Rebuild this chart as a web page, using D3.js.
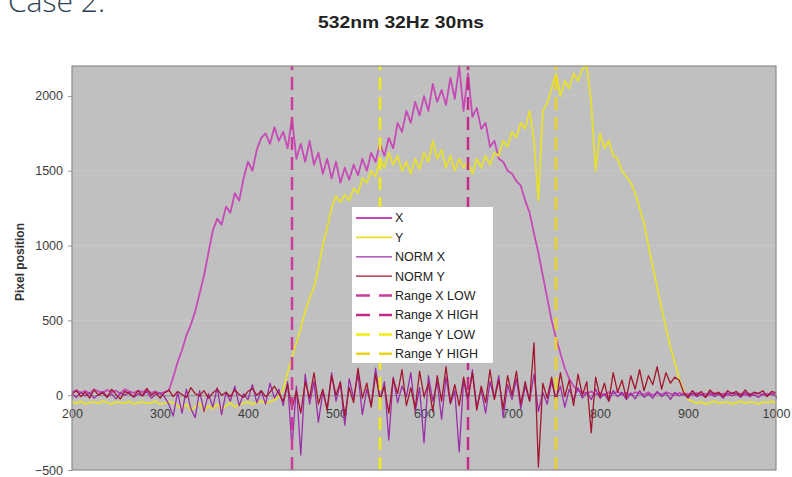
<!DOCTYPE html>
<html>
<head>
<meta charset="utf-8">
<script src="https://cdn.jsdelivr.net/npm/d3@7/dist/d3.min.js"></script>
<style>
  html, body { margin: 0; padding: 0; background: #fff; }
  svg { display: block; }
</style>
</head>
<body>
<svg id="chart" width="792" height="477"></svg>
<script>
// ---------- DATA ----------
const pageLabel = "Case 2:";
const chartTitle = "532nm 32Hz 30ms";
const yAxisTitle = "Pixel position";
const xTicks = [200, 300, 400, 500, 600, 700, 800, 900, 1000];
const yTicks = [-500, 0, 500, 1000, 1500, 2000];
const sampleStart = 200, sampleStep = 5;   // sample positions 200..1000

const seriesX = [
  20, 35, 15, 30, 10, 40, 25, 15, 35, 20, 30, 10, 40, 25, 15, 30, 20, 35, 15, 25, 10, 20,
  30, 120, 220, 300, 400, 470, 560, 680, 800, 950,
  1100, 1180, 1140, 1260, 1220, 1350, 1300, 1450, 1560, 1500,
  1640, 1720, 1750, 1680, 1790, 1700, 1760, 1650, 1850, 1580,
  1680, 1560, 1700, 1540, 1620, 1480, 1580, 1450, 1560, 1420,
  1520, 1440, 1540, 1470, 1580, 1500, 1620, 1560, 1680, 1600,
  1720, 1650, 1820, 1760, 1900, 1820, 1960, 1870, 2000, 1900,
  2080, 1960, 2040, 1940, 2120, 1980, 2200, 1900, 2150, 1860,
  1920, 1780, 1820, 1660, 1700, 1580, 1560, 1500, 1480, 1430,
  1400, 1300, 1220, 1080, 950, 800, 650, 500, 380, 280,
  180, 110, 60, 30, 20,
  10, 25, 5, 15, 0, 20, 10, 25, 5, 15, 0, 20, 10, 5, 20, 0, 15, 5, 20, 10,
  0, 15, 5, 10, 0, 15, 5, 10, 0, 15, 5, 10, 0, 15, 5, 10, 0, 10, 5, 15, 0, 10, 5, 10
];

const seriesY = [
  -45, -55, -40, -60, -50, -45, -55, -40, -50, -60, -45, -50, -55, -40, -60, -50, -45, -55, -50, -40,
  -60, -55, -45, -50, -70, -90, -60, -100, -80, -50, -110, -70, -90, -60, -100, -70, -50, -80, -60, -55,
  -45, -60, -50, -40, -55, -45, -30, -10,
  40, 150, 250, 350, 450, 560, 650, 720, 850, 1000,
  1120, 1250, 1330, 1290, 1340, 1300, 1380, 1350, 1450, 1420,
  1500, 1460, 1580, 1520, 1620, 1540, 1600, 1500, 1560, 1480,
  1580, 1510, 1620, 1560, 1700, 1580, 1640, 1520, 1600, 1500,
  1580, 1520, 1560, 1480, 1580, 1520, 1600, 1540, 1620, 1600,
  1700, 1660, 1760, 1720, 1820, 1780, 1900, 1700, 1300, 1900,
  1950, 2050, 2150, 2000, 2100, 2050, 2150, 2100, 2180, 2200,
  1950, 1500, 1750, 1650, 1700, 1600, 1580, 1500, 1460, 1420,
  1350, 1250, 1150, 1000, 860, 720, 580, 450, 320, 220,
  110, 30, -30,
  -40, -55, -45, -60, -50, -40, -55, -50, -45, -60, -50, -40, -55, -45, -50, -60, -45, -50, -40, -55
];

const seriesNormX = [
  10, -15, 20, -5, 15, -20, 5, 25, -10, 10, -25, 15, 0, 20, -15, 10, -5, 25, -20, 5, 15, -10,
  -60, -140, 20, -120, 40, -90, -150, 30, -110, 10, -80, 50, -130, 20, -40, 60, -70, 10, -30, 70,
  -50, 30, -60, 80, -20, 40, -70, 90,
  -350, 60, -400, 140, -60, 90, -180, 20, -90, 150,
  -40, 80, -200, 110, -20, 140, -130, 40, -70, 180,
  -30, 90, -300, 120, -50, 60, -10, 150, -110, 50,
  -320, 130, -40, 90, -160, 120, -60, 30, -380, 100,
  -50, 170, -80, 40, -120, 90, -20, 130, -150, 70,
  -30, 110, -90, 60, -40, 140, -110, 20, -60, 90,
  -20, 60, -80, 40, -30, 50, -20,
  20, -30, 40, -20, 10, -40, 30, -10, 20, -30, 15, -25, 30, -15, 10, -20, 25, -10, 15, -30,
  20, -5, 10, -20, 15, -10, 5, -15, 20, -10, 10, -20, 15, -5, 10, -15, 20, -10, 5, -15, 10, -5, 15, -10
];

const seriesNormY = [
  10, 30, -10, 20, -20, 35, 0, 15, -15, 40, 5, -25, 25, 10, -10, 30, -5, 45, 0, 20,
  -20, 15, 35, -10, 25, 5, -15, 50, 10, -5, 30, -20, 15, 40, 0, 20, -10, 35, 5, -15,
  25, 45, 0, 30, -10, 20, 60, 10,
  -40, 70, -90, 30, -120, 90, -20, 150, -60, 40,
  -100, 130, 0, 90, -140, 50, -50, 180, -20, 80,
  -80, 140, -30, 60, -120, 110, 10, 170, -70, 50,
  -90, 160, -10, 80, -110, 130, -40, 190, -50, 70,
  -70, 120, -20, 150, -100, 60, -50, 170, -30, 100,
  -90, 130, 0, 160, -60, 90, -40, 350, -480, 80,
  -20, 120, -50, 150, -10, 100, -70, 140, 0, 90,
  -250, 120, -10, 80, -40, 150, 20, 100, -20, 130,
  40, 170, 30, 130, 70, 190, 40, 150, 80, 120, 100,
  20, -10, 30, 0, 25, -15, 35, 5, 20, -10, 30, 10, 25, -5, 35, 0, 20, 10, 30, -10, 25, 15
];

const rangeXLow = 450, rangeXHigh = 650, rangeYLow = 550, rangeYHigh = 750;

// ---------- LAYOUT / STYLE ----------
const svg = d3.select("#chart");
const plot = { left: 72, right: 776, top: 66, bottom: 470 };
const x = d3.scaleLinear().domain([200, 1000]).range([plot.left, plot.right]);
const y = d3.scaleLinear().domain([-500, 2200]).range([plot.bottom, plot.top]);

const colors = {
  X: "#c64ab6", Y: "#e6e02e", NX: "#9a2ea8", NY: "#a3162e",
  RXL: "#cc3c9c", RXH: "#c42a8a", RYL: "#f0ec14", RYH: "#ead41e"
};

function toPoints(arr) {
  return arr.map((v, i) => [sampleStart + i * sampleStep, v]);
}

// page label
svg.append("text").attr("x", 8).attr("y", 12)
  .attr("font-family", "'Open Sans', sans-serif").attr("font-weight", 300)
  .attr("font-size", 30).attr("fill", "#2c3e50").text(pageLabel);

// title
svg.append("text").attr("x", 401).attr("y", 28).attr("text-anchor", "middle")
  .attr("font-family", "'Liberation Sans', Arial, sans-serif").attr("font-weight", "bold")
  .attr("font-size", 16.5).attr("fill", "#222")
  .attr("textLength", 166).attr("lengthAdjust", "spacingAndGlyphs").text(chartTitle);

// plot background
svg.append("rect").attr("x", plot.left).attr("y", plot.top)
  .attr("width", plot.right - plot.left).attr("height", plot.bottom - plot.top)
  .attr("fill", "#c0c0c0");

// gridlines
svg.append("g").selectAll("line").data(yTicks.filter(t => t > -500)).join("line")
  .attr("x1", plot.left).attr("x2", plot.right)
  .attr("y1", d => y(d)).attr("y2", d => y(d))
  .attr("stroke", "#c8c8c8").attr("stroke-width", 1);

// y axis
const yAxis = svg.append("g").attr("transform", `translate(${plot.left},0)`)
  .call(d3.axisLeft(y).tickValues(yTicks).tickSize(4).tickPadding(5).tickFormat(d3.format("d")));
yAxis.select(".domain").remove();
yAxis.selectAll("line").attr("stroke", "#999");
yAxis.selectAll("text").attr("font-family", "'Liberation Sans', Arial, sans-serif")
  .attr("font-size", 12.5).attr("fill", "#3c3c3c");

// x axis at y = 0
const xAxis = svg.append("g").attr("transform", `translate(0,${y(0)})`)
  .call(d3.axisBottom(x).tickValues(xTicks).tickSize(4).tickPadding(10).tickFormat(d3.format("d")));
xAxis.select(".domain").attr("stroke", "#888");
xAxis.selectAll("line").attr("stroke", "#888");
xAxis.selectAll("text").attr("font-family", "'Liberation Sans', Arial, sans-serif")
  .attr("font-size", 12.5).attr("fill", "#3c3c3c");

// series
const line = d3.line().x(d => x(d[0])).y(d => y(d[1]));
const seriesDefs = [
  { data: seriesX, color: colors.X, w: 1.8 },
  { data: seriesY, color: colors.Y, w: 1.8 },
  { data: seriesNormX, color: colors.NX, w: 1.3 },
  { data: seriesNormY, color: colors.NY, w: 1.3 }
];
const gSeries = svg.append("g");
seriesDefs.forEach(s => {
  gSeries.append("path").datum(toPoints(s.data)).attr("d", line)
    .attr("fill", "none").attr("stroke", s.color).attr("stroke-width", s.w)
    .attr("stroke-linejoin", "round");
});

// range lines
const ranges = [
  { v: rangeXLow, color: colors.RXL },
  { v: rangeXHigh, color: colors.RXH },
  { v: rangeYLow, color: colors.RYL },
  { v: rangeYHigh, color: colors.RYH }
];
svg.append("g").selectAll("line").data(ranges).join("line")
  .attr("x1", d => x(d.v)).attr("x2", d => x(d.v))
  .attr("y1", y(-500)).attr("y2", y(2200))
  .attr("stroke", d => d.color).attr("stroke-width", 2.5)
  .attr("stroke-dasharray", "13,7");

// plot border
svg.append("rect").attr("x", plot.left).attr("y", plot.top)
  .attr("width", plot.right - plot.left).attr("height", plot.bottom - plot.top)
  .attr("fill", "none").attr("stroke", "#8c8c8c").attr("stroke-width", 1.2);

// y axis title
svg.append("text").attr("transform", "translate(24,262) rotate(-90)")
  .attr("text-anchor", "middle").attr("font-family", "'Liberation Sans', Arial, sans-serif")
  .attr("font-weight", "bold").attr("font-size", 12).attr("fill", "#333").text(yAxisTitle);

// legend
const legendItems = [
  { name: "X", color: colors.X, w: 1.8, dash: null },
  { name: "Y", color: colors.Y, w: 1.8, dash: null },
  { name: "NORM X", color: colors.NX, w: 1.3, dash: null },
  { name: "NORM Y", color: colors.NY, w: 1.3, dash: null },
  { name: "Range X LOW", color: colors.RXL, w: 2.5, dash: "14,9" },
  { name: "Range X HIGH", color: colors.RXH, w: 2.5, dash: "14,9" },
  { name: "Range Y LOW", color: colors.RYL, w: 2.5, dash: "14,9" },
  { name: "Range Y HIGH", color: colors.RYH, w: 2.5, dash: "14,9" }
];
const lg = svg.append("g").attr("transform", "translate(352,207)");
lg.append("rect").attr("width", 141).attr("height", 156).attr("fill", "#fff");
const rows = lg.selectAll("g").data(legendItems).join("g")
  .attr("transform", (d, i) => `translate(0,${11 + i * 19.4})`);
rows.append("line").attr("x1", 4).attr("x2", 40)
  .attr("stroke", d => d.color).attr("stroke-width", d => d.w)
  .attr("stroke-dasharray", d => d.dash);
rows.append("text").attr("x", 43).attr("dy", "0.35em")
  .attr("font-family", "'Liberation Sans', Arial, sans-serif").attr("font-size", 12.5)
  .attr("fill", "#222").text(d => d.name);
</script>
</body>
</html>
